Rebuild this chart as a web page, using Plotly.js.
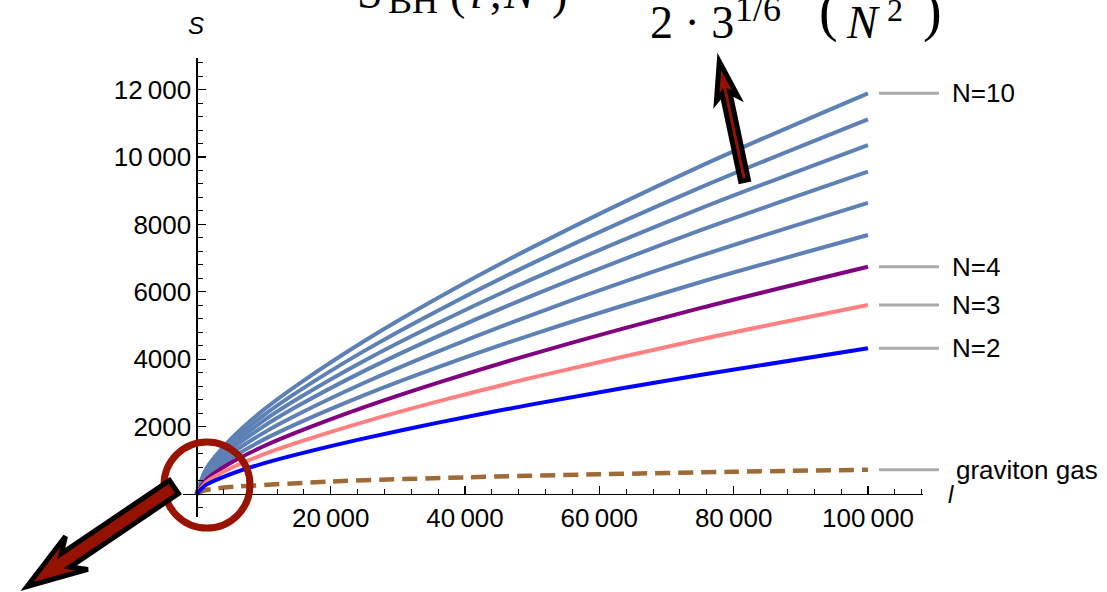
<!DOCTYPE html>
<html><head><meta charset="utf-8">
<script src="https://cdn.plot.ly/plotly-3.0.1.min.js"></script>
<style>html,body{margin:0;padding:0;background:#fff}#chart{width:1107px;height:592px}</style>
</head><body><div id="chart"></div>
<script>
// ---- data ----
const lengths = [0, 1500, 5000, 10000, 15000, 25000, 36000, 50000, 75000, 100000];
const sN2  = [0, 277,  584,  908, 1176, 1651, 2118, 2661, 3534, 4323];
const sN3  = [0, 359,  757, 1178, 1525, 2142, 2748, 3452, 4585, 5608];
const sN4  = [0, 432,  911, 1416, 1835, 2577, 3305, 4152, 5515, 6745];
const sN5  = [0, 492, 1037, 1614, 2090, 2936, 3766, 4731, 6283, 7685];
const sN6  = [0, 553, 1166, 1814, 2350, 3300, 4234, 5319, 7064, 8640];
const sN7  = [0, 612, 1291, 2008, 2601, 3653, 4686, 5888, 7820, 9564];
const sN8  = [0, 663, 1398, 2175, 2817, 3956, 5074, 6375, 8467, 10356];
const sN9  = [0, 712, 1501, 2335, 3024, 4247, 5448, 6844, 9090, 11118];
const sN10 = [0, 761, 1605, 2497, 3234, 4542, 5826, 7319, 9721, 11890];
const gravL = [0, 1000, 2500, 5000, 20000, 40000, 60000, 80000, 100000];
const gravS = [0, 95, 150, 205, 370, 495, 585, 660, 720];

const xTickVals = [20000, 40000, 60000, 80000, 100000];
const xTickText = ['20\u2009000', '40\u2009000', '60\u2009000', '80\u2009000', '100\u2009000'];
const yTickVals = [2000, 4000, 6000, 8000, 10000, 12000];
const yTickText = ['2000', '4000', '6000', '8000', '10\u2009000', '12\u2009000'];

const blueSeries = [sN5, sN6, sN7, sN8, sN9, sN10];

// ---- layout geometry ----
const W = 1107, H = 592;
const M = {l: 183, r: 184, t: 58, b: 75};
const PW = W - M.l - M.r, PH = H - M.t - M.b;
const xRange = [-2000, 108200];
const yRange = [-682, 12938];
function px(x) { return (x - M.l) / PW; }
function py(y) { return (H - M.b - y) / PH; }

function arrowPath(tail, tip, sw, hw, hl, notch) {
  const dx = tip[0] - tail[0], dy = tip[1] - tail[1];
  const len = Math.hypot(dx, dy);
  const ux = dx / len, uy = dy / len;
  const vx = -uy, vy = ux;
  const pts = [
    [tail[0] + vx * sw, tail[1] + vy * sw],
    [tip[0] - ux * hl * notch + vx * sw, tip[1] - uy * hl * notch + vy * sw],
    [tip[0] - ux * hl + vx * hw, tip[1] - uy * hl + vy * hw],
    [tip[0], tip[1]],
    [tip[0] - ux * hl - vx * hw, tip[1] - uy * hl - vy * hw],
    [tip[0] - ux * hl * notch - vx * sw, tip[1] - uy * hl * notch - vy * sw],
    [tail[0] - vx * sw, tail[1] - vy * sw]
  ];
  return 'M' + pts.map(p => px(p[0]).toFixed(5) + ',' + py(p[1]).toFixed(5)).join(' L') + ' Z';
}

const font = 'Liberation Sans, Arial, sans-serif';
const serif = 'Liberation Serif, DejaVu Serif, serif';

const traces = [];
traces.push({x: gravL, y: gravS, mode: 'lines', line: {color: '#9E6A35', width: 4.5, dash: '15px,8px', shape: 'spline', smoothing: 0.8}});
blueSeries.forEach(s => traces.push({x: lengths, y: s, mode: 'lines', line: {color: '#5E81B5', width: 4, shape: 'spline', smoothing: 0.8}}));
traces.push({x: lengths, y: sN4, mode: 'lines', line: {color: '#800080', width: 4, shape: 'spline', smoothing: 0.8}});
traces.push({x: lengths, y: sN3, mode: 'lines', line: {color: '#FF8080', width: 4, shape: 'spline', smoothing: 0.8}});
traces.push({x: lengths, y: sN2, mode: 'lines', line: {color: '#0000FF', width: 4, shape: 'spline', smoothing: 0.8}});

const labelled = [
  {name: 'N=10', s: sN10, x: 950},
  {name: 'N=4', s: sN4, x: 950},
  {name: 'N=3', s: sN3, x: 950},
  {name: 'N=2', s: sN2, x: 950},
  {name: 'graviton gas', s: gravS, x: 954}
];

const shapes = [];
const annotations = [];
labelled.forEach(o => {
  const v = o.s[o.s.length - 1];
  shapes.push({type: 'line', xref: 'paper', yref: 'y', x0: px(879), x1: px(939), y0: v, y1: v,
    line: {color: '#AAAAAA', width: 3}});
  annotations.push({xref: 'paper', yref: 'y', x: px(o.x), y: v, xanchor: 'left', yanchor: 'middle',
    text: o.name, showarrow: false, font: {family: font, size: 26, color: '#000'}});
});

// circle around origin
shapes.push({type: 'circle', xref: 'paper', yref: 'paper',
  x0: px(207 - 43), x1: px(207 + 43), y0: py(485 + 43), y1: py(485 - 43),
  line: {color: '#991400', width: 7}});
// arrows
shapes.push({type: 'path', xref: 'paper', yref: 'paper',
  path: arrowPath([174, 487], [27, 586.5], 8, 20, 60, 0.78),
  fillcolor: '#951200', line: {color: '#000', width: 5}});
shapes.push({type: 'path', xref: 'paper', yref: 'paper',
  path: arrowPath([744.5, 180.5], [719.3, 61.5], 4, 11, 38, 0.85),
  fillcolor: '#951200', line: {color: '#000', width: 5}});

// axis labels
annotations.push({xref: 'paper', yref: 'paper', x: px(196), y: py(25), xanchor: 'center', yanchor: 'middle',
  text: '<i>S</i>', showarrow: false, font: {family: font, size: 24, color: '#000'}});
annotations.push({xref: 'paper', yref: 'paper', x: px(951), y: py(494), xanchor: 'center', yanchor: 'middle',
  text: '<i>l</i>', showarrow: false, font: {family: font, size: 24, color: '#000'}});

// clipped math text at the top
function tex(text, xLeft, yMid, size) {
  annotations.push({xref: 'paper', yref: 'paper', x: px(xLeft), y: py(yMid), xanchor: 'left', yanchor: 'middle',
    text: text, showarrow: false, font: {family: serif, size: size, color: '#000'}});
}
tex('S', 355, -8, 46);
tex('BH', 386, 1, 36);
tex('(', 448, -6, 46);
tex('<i>l</i>', 468, -8, 46);
tex(',', 488, -8, 46);
tex('<i>N</i>', 501, -8, 46);
tex(')', 550, -6, 46);
tex('2 · 3', 648, 23, 46);
tex('1/6', 733, 9, 36);
tex('(', 817, 11, 56);
tex('<i>N</i>', 844, 23, 46);
tex('2', 885, 10, 32);
tex(')', 921, 11, 56);

const axisCommon = {
  showgrid: false, zeroline: false, showline: true, linecolor: '#000', linewidth: 1.3,
  ticks: 'inside', ticklen: 8, tickwidth: 1.3, tickcolor: '#000', tickmode: 'array',
  tickfont: {family: font, size: 26, color: '#000'}, anchor: 'free', fixedrange: true
};

const layout = {
  width: W, height: H, margin: M, paper_bgcolor: '#fff', plot_bgcolor: '#fff', showlegend: false,
  xaxis: Object.assign({}, axisCommon, {
    range: xRange, tickvals: xTickVals, ticktext: xTickText,
    position: (0 - yRange[0]) / (yRange[1] - yRange[0]),
    minor: {ticks: 'inside', ticklen: 5, tickwidth: 1, tickcolor: '#000', tickmode: 'linear', tick0: 0, dtick: 4000, showgrid: false}
  }),
  yaxis: Object.assign({}, axisCommon, {
    range: yRange, tickvals: yTickVals, ticktext: yTickText,
    position: (0 - xRange[0]) / (xRange[1] - xRange[0]),
    minor: {ticks: 'inside', ticklen: 5, tickwidth: 1, tickcolor: '#000', tickmode: 'linear', tick0: 0, dtick: 400, showgrid: false}
  }),
  shapes: shapes, annotations: annotations
};

Plotly.newPlot('chart', traces, layout, {displayModeBar: false, staticPlot: true});
</script></body></html>
